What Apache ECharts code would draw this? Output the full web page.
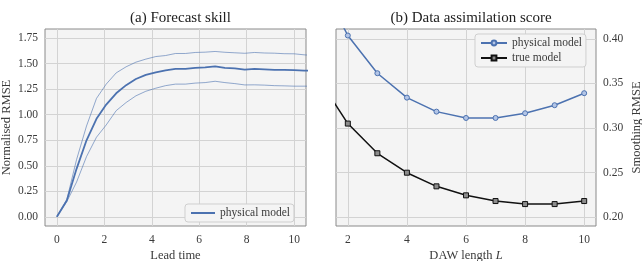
<!DOCTYPE html>
<html><head><meta charset="utf-8">
<script src="https://cdn.jsdelivr.net/npm/echarts@6/dist/echarts.min.js"></script>
<style>html,body{margin:0;padding:0;background:#fff}#c{width:642px;height:261px}</style>
</head><body><div id="c"></div>
<script>
// Panel (a): forecast skill
const leadTime = [0, 0.42, 0.83, 1.25, 1.67, 2.08, 2.5, 2.92, 3.33, 3.75, 4.17, 4.58, 5.0, 5.42, 5.83, 6.25, 6.67, 7.08, 7.5, 7.92, 8.33, 8.75, 9.17, 9.58, 10.0, 10.42, 10.83];
const rmseMean  = [0, 0.16, 0.47, 0.75, 0.96, 1.10, 1.21, 1.29, 1.35, 1.39, 1.415, 1.435, 1.45, 1.45, 1.46, 1.465, 1.473, 1.46, 1.455, 1.443, 1.45, 1.445, 1.44, 1.44, 1.437, 1.433, 1.43];
const rmseUpper = [0, 0.17, 0.56, 0.89, 1.16, 1.30, 1.41, 1.47, 1.515, 1.545, 1.57, 1.58, 1.60, 1.60, 1.61, 1.613, 1.62, 1.612, 1.607, 1.602, 1.61, 1.605, 1.603, 1.598, 1.597, 1.587, 1.58];
const rmseLower = [0, 0.15, 0.34, 0.59, 0.78, 0.90, 1.04, 1.12, 1.185, 1.23, 1.26, 1.285, 1.30, 1.30, 1.31, 1.315, 1.328, 1.315, 1.305, 1.292, 1.293, 1.29, 1.285, 1.283, 1.28, 1.28, 1.28];
const aXTicks = [0, 2, 4, 6, 8, 10];
const aYTicks = [0, 0.25, 0.5, 0.75, 1.0, 1.25, 1.5, 1.75];

// Panel (b): data assimilation score
const dawLength = [1, 2, 3, 4, 5, 6, 7, 8, 9, 10];
const physicalModel = [0.468, 0.4037, 0.3614, 0.334, 0.3183, 0.3112, 0.3112, 0.3165, 0.3255, 0.339];
const trueModel     = [0.356, 0.3049, 0.2716, 0.2498, 0.2345, 0.2244, 0.218, 0.2146, 0.2146, 0.218];
const bXTicks = [2, 4, 6, 8, 10];
const bYTicks = [0.20, 0.25, 0.30, 0.35, 0.40];

const FONT = 'Liberation Serif';
const BLUE = '#4c72b0';
const pairs = (xs, ys) => xs.map((x, i) => [x, ys[i]]);

const gridLine = { show: true, lineStyle: { color: '#d3d3d3', width: 1 } };
const labelStyle = { fontFamily: FONT, fontSize: 11.5, color: '#3a3a3a' };
const nameStyle = { fontFamily: FONT, fontSize: 12.5, color: '#3a3a3a', rich: { i: { fontFamily: FONT, fontSize: 12.5, fontStyle: 'italic', color: '#3a3a3a' } } };

function valAxis(gridIndex, min, max, ticks, extra) {
  return Object.assign({
    type: 'value', gridIndex, min, max,
    axisLine: { show: false },
    axisTick: { show: false, customValues: ticks },
    splitLine: gridLine,
    nameTextStyle: nameStyle
  }, extra);
}

const chart = echarts.init(document.getElementById('c'), null, { renderer: 'canvas' });
chart.setOption({
  animation: false,
  backgroundColor: '#ffffff',
  title: [
    { text: '(a) Forecast skill', left: 175.5, top: 6, textAlign: 'center',
      textStyle: { fontFamily: FONT, fontSize: 15, fontWeight: 'normal', color: '#222' } },
    { text: '(b) Data assimilation score', left: 466, top: 6, textAlign: 'center',
      textStyle: { fontFamily: FONT, fontSize: 15, fontWeight: 'normal', color: '#222' } }
  ],
  grid: [
    { left: 45, top: 29, right: 336, bottom: 35, outerBoundsMode: 'none', containLabel: false,
      show: true, backgroundColor: '#f4f4f4', borderColor: '#8a8a8a', borderWidth: 1 },
    { left: 336, top: 29, right: 46, bottom: 35, outerBoundsMode: 'none', containLabel: false,
      show: true, backgroundColor: '#f4f4f4', borderColor: '#8a8a8a', borderWidth: 1 }
  ],
  xAxis: [
    valAxis(0, -0.5, 10.5, aXTicks, { name: 'Lead time', nameLocation: 'middle', nameGap: 23, nameMoveOverlap: false,
      axisLabel: Object.assign({ customValues: aXTicks, margin: 8, formatter: v => String(v) }, labelStyle) }),
    valAxis(1, 1.6, 10.4, bXTicks, { name: 'DAW length {i|L}', nameLocation: 'middle', nameGap: 23, nameMoveOverlap: false,
      axisLabel: Object.assign({ customValues: bXTicks, margin: 8, formatter: v => String(v) }, labelStyle) })
  ],
  yAxis: [
    valAxis(0, -0.09, 1.84, aYTicks, { name: 'Normalised RMSE', nameLocation: 'middle', nameGap: 32, nameRotate: 90,
      axisLabel: Object.assign({ customValues: aYTicks, margin: 7, formatter: v => v.toFixed(2) }, labelStyle) }),
    valAxis(1, 0.19, 0.411, bYTicks, { position: 'right', name: 'Smoothing RMSE', nameLocation: 'middle', nameGap: 34, nameRotate: 90,
      axisLabel: Object.assign({ customValues: bYTicks, margin: 7, formatter: v => v.toFixed(2) }, labelStyle) })
  ],
  legend: [
    { data: [{ name: 'physical model', icon: 'rect' }], left: 185, top: 204, orient: 'vertical',
      itemWidth: 24, itemHeight: 2, padding: [3, 4, 3, 6], itemGap: 4,
      backgroundColor: '#f4f4f4', borderColor: '#cfcfcf', borderWidth: 1, borderRadius: 3,
      textStyle: { fontFamily: FONT, fontSize: 11.5, color: '#3a3a3a', lineHeight: 12 } },
    { data: ['physical model_b', 'true model'], left: 475, top: 34, orient: 'vertical',
      itemWidth: 26, itemHeight: 6, padding: [3, 4, 3, 5], itemGap: 3,
      formatter: n => n.replace('_b', ''),
      backgroundColor: '#f4f4f4', borderColor: '#cfcfcf', borderWidth: 1, borderRadius: 3,
      textStyle: { fontFamily: FONT, fontSize: 11.5, color: '#3a3a3a' } }
  ],
  series: [
    { name: 'upper', type: 'line', xAxisIndex: 0, yAxisIndex: 0, data: pairs(leadTime, rmseUpper),
      showSymbol: false, symbol: 'none', lineStyle: { color: BLUE, width: 0.8, opacity: 0.75 }, z: 3 },
    { name: 'lower', type: 'line', xAxisIndex: 0, yAxisIndex: 0, data: pairs(leadTime, rmseLower),
      showSymbol: false, symbol: 'none', lineStyle: { color: BLUE, width: 0.8, opacity: 0.75 }, z: 3 },
    { name: 'physical model', type: 'line', xAxisIndex: 0, yAxisIndex: 0, data: pairs(leadTime, rmseMean),
      showSymbol: false, symbol: 'none', itemStyle: { color: BLUE }, lineStyle: { color: BLUE, width: 1.8 }, z: 4 },
    { name: 'physical model_b', type: 'line', xAxisIndex: 1, yAxisIndex: 1, data: pairs(dawLength, physicalModel),
      symbol: 'circle', symbolSize: 5, itemStyle: { color: '#b3c5e6', borderColor: BLUE, borderWidth: 1 },
      lineStyle: { color: BLUE, width: 1.5 }, z: 4 },
    { name: 'true model', type: 'line', xAxisIndex: 1, yAxisIndex: 1, data: pairs(dawLength, trueModel),
      symbol: 'rect', symbolSize: 5, itemStyle: { color: '#8c8c8c', borderColor: '#111', borderWidth: 1 },
      lineStyle: { color: '#111', width: 1.5 }, z: 4 }
  ]
});
</script></body></html>
